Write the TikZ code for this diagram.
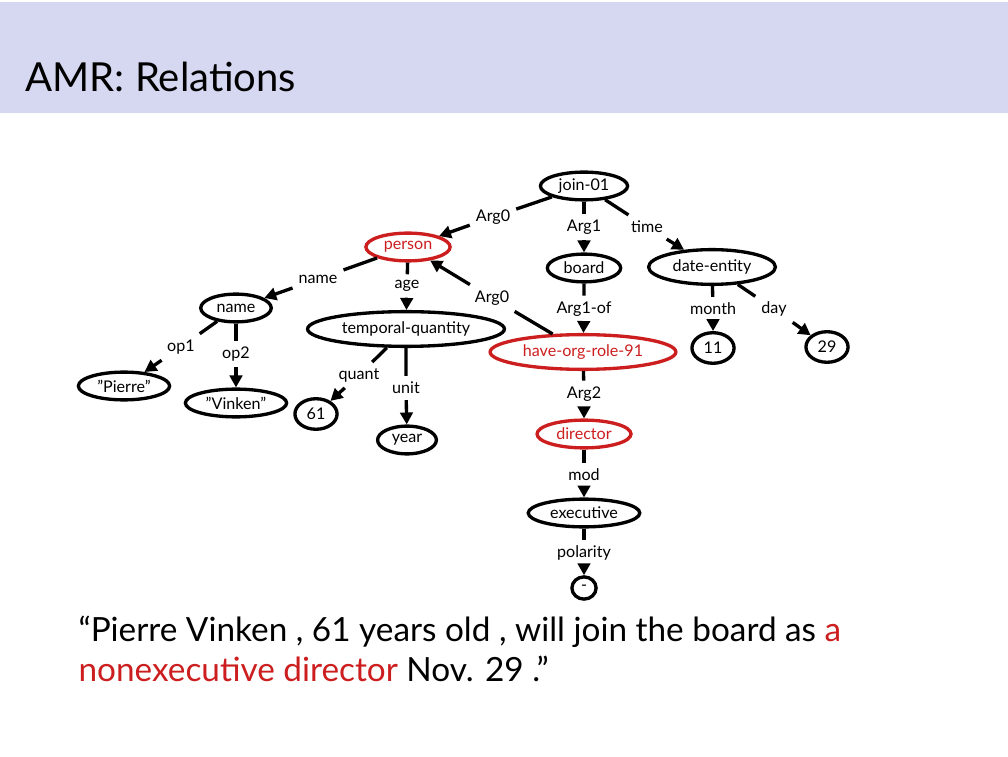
\documentclass[tikz,border=0pt]{standalone}
\usepackage{fontspec}
\setmainfont{Lato}
\usepackage{tikz}
\usetikzlibrary{shapes.geometric,arrows.meta}
\definecolor{amrred}{RGB}{204,30,30}
\definecolor{titlebg}{RGB}{214,215,240}
\tikzset{
  concept/.style={ellipse, draw, line width=1.2pt, inner xsep=2pt, inner ysep=0pt,
    minimum height=10pt, font=\fontsize{5.8}{6}\selectfont},
  wide/.style={minimum height=12.5pt},
  focus/.style={draw=amrred, text=amrred},
  rel/.style={fill=white, inner sep=2pt, font=\fontsize{5.8}{6}\selectfont},
  edge/.style={line width=1.2pt, -{Triangle[length=4.3pt,width=4.5pt]}}
}

\begin{document}
\begin{tikzpicture}[x=0.36pt, y=-0.36pt]
\useasboundingbox (0,0) rectangle (1008,756);
% title bar
\fill[titlebg] (0,2) rectangle (1008,113);
\node[anchor=base west, inner sep=0pt, font=\fontsize{14.4}{17}\selectfont] (title) at (25,92) {AMR: Relations};

% concepts
\node[concept] (join) at (584,186) {join-01};
\node[concept, focus] (person) at (408,247) {person};
\node[concept] (board) at (584,268) {board};
\node[concept, wide] (date) at (712,267) {date-entity};
\node[concept] (name) at (236,308) {name};
\node[concept, wide] (tq) at (406,329) {temporal-quantity};
\node[concept, wide, focus] (hor) at (583,352) {have-org-role-91};
\node[concept, minimum height=11pt] (m11) at (713,348) {11};
\node[concept, minimum height=11pt] (d29) at (827,347) {29};
\node[concept] (pierre) at (124,386) {''Pierre''};
\node[concept] (vinken) at (236,403) {''Vinken''};
\node[concept, minimum height=11pt] (n61) at (316,414) {61};
\node[concept] (year) at (407,440) {year};
\node[concept, focus] (director) at (584,434) {director};
\node[concept] (exec) at (584,513) {executive};
\node[concept, minimum height=8pt] (neg) at (584,588) {-};

% relations
\node[rel] (ra0) at (493,217) {Arg0};
\node[rel] (ra1) at (584,227) {Arg1};
\node[rel] (rtime) at (647,227) {time};
\node[rel] (rname) at (318,279) {name};
\node[rel] (rage) at (407,286) {age};
\node[rel] (rb0) at (492,298) {Arg0};
\node[rel] (rof) at (584,309) {Arg1-of};
\node[rel] (rmonth) at (713,309) {month};
\node[rel] (rday) at (774,309) {day};
\node[rel] (rop1) at (181,347) {op1};
\node[rel] (rop2) at (236,354) {op2};
\node[rel] (rquant) at (359,375) {quant};
\node[rel] (runit) at (406,388) {unit};
\node[rel] (ra2) at (584,394) {Arg2};
\node[rel] (rmod) at (584,475) {mod};
\node[rel] (rpol) at (584,553) {polarity};

% edges
\draw[edge] (join) -- (ra0) -- (person);
\draw[edge] (join) -- (ra1) -- (board);
\draw[edge] (join) -- (rtime) -- (date);
\draw[edge] (person) -- (rname) -- (name);
\draw[edge] (person) -- (rage) -- (tq);
\draw[edge] (hor) -- (rb0) -- (person);
\draw[edge] (board) -- (rof) -- (hor);
\draw[edge] (date) -- (rmonth) -- (m11);
\draw[edge] (date) -- (rday) -- (d29);
\draw[edge] (name) -- (rop1) -- (pierre);
\draw[edge] (name) -- (rop2) -- (vinken);
\draw[edge] (tq) -- (rquant) -- (n61);
\draw[edge] (tq) -- (runit) -- (year);
\draw[edge] (hor) -- (ra2) -- (director);
\draw[edge] (director) -- (rmod) -- (exec);
\draw[edge] (exec) -- (rpol) -- (neg);

% sentence
\node[anchor=base west, inner sep=0pt, font=\fontsize{12}{14}\selectfont] (sent1) at (78,641)
  {“Pierre Vinken , 61 years old , will join the board as \textcolor{amrred}{a}};
\node[anchor=base west, inner sep=0pt, font=\fontsize{12}{14}\selectfont] (sent2) at (78,681)
  {\textcolor{amrred}{nonexecutive director} Nov. 29 .”};
\end{tikzpicture}
\end{document}
